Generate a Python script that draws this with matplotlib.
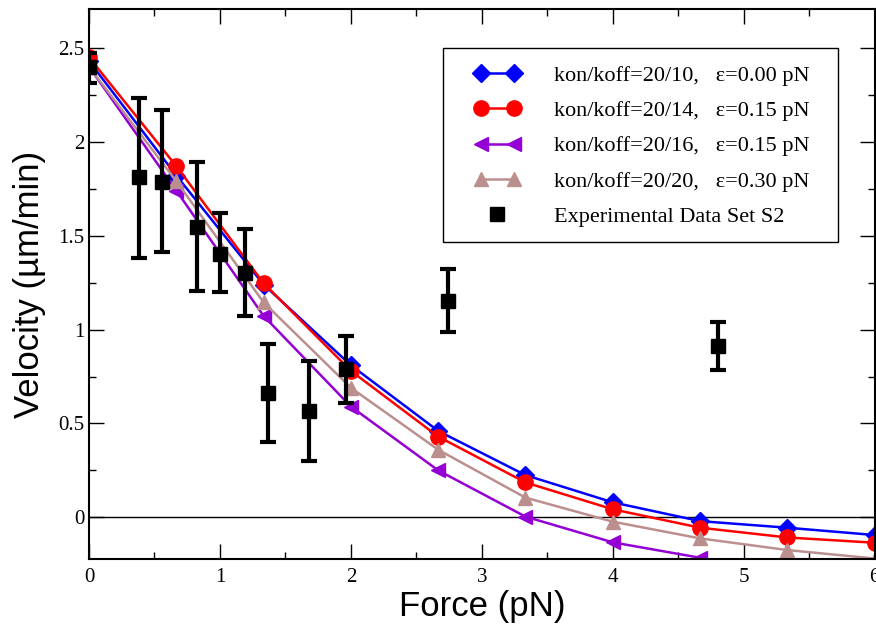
import matplotlib
matplotlib.use("Agg")
import matplotlib.pyplot as plt
from matplotlib.ticker import MultipleLocator, FormatStrFormatter
from matplotlib.lines import Line2D
from matplotlib.patches import Rectangle
from matplotlib.legend_handler import HandlerLine2D

# model curves, sampled every 2/3 pN
force = [0, 0.667, 1.333, 2.0, 2.667, 3.333, 4.0, 4.667, 5.333, 6.0]
v_20_10 = [2.43, 1.82, 1.24, 0.81, 0.46, 0.225, 0.08, -0.02, -0.055, -0.094]
v_20_14 = [2.45, 1.87, 1.247, 0.78, 0.43, 0.186, 0.043, -0.055, -0.107, -0.135]
v_20_16 = [2.40, 1.74, 1.073, 0.59, 0.25, 0.004, -0.133, -0.215]
v_20_20 = [2.40, 1.79, 1.145, 0.69, 0.36, 0.105, -0.023, -0.112, -0.174, -0.219]

# experimental data set S2
exp_force = [0.0, 0.379, 0.557, 0.824, 1.002, 1.188, 1.363, 1.68, 1.963, 2.745, 4.80]
exp_vel   = [2.40, 1.813, 1.786, 1.544, 1.405, 1.299, 0.663, 0.568, 0.79, 1.153, 0.914]
exp_lo    = [2.315, 1.379, 1.414, 1.203, 1.198, 1.073, 0.40, 0.30, 0.61, 0.985, 0.784]
exp_hi    = [2.474, 2.235, 2.17, 1.893, 1.623, 1.535, 0.923, 0.834, 0.967, 1.322, 1.042]

fig = plt.figure(figsize=(8.76, 6.26), dpi=100)
ax = fig.add_axes([0.1016, 0.1075, 0.897, 0.8775])

lw = 1.8
ms = 10
ax.axhline(0, color="black", linewidth=1.0, zorder=1)
h1, = ax.plot(force, v_20_10, "D-", color="#0000ff", lw=lw, ms=ms - 1,
              label="kon/koff=20/10,   \u03b5=0.00 pN")
h2, = ax.plot(force, v_20_14, "o-", color="#ff0000", lw=lw, ms=ms + 1,
              label="kon/koff=20/14,   \u03b5=0.15 pN")
h3, = ax.plot(force[:len(v_20_16)], v_20_16, "<-", color="#9400d3", lw=lw, ms=ms,
              label="kon/koff=20/16,   \u03b5=0.15 pN")
h4, = ax.plot(force, v_20_20, "^-", color="#bc8f8f", lw=lw, ms=ms,
              label="kon/koff=20/20,   \u03b5=0.30 pN")

yerr = [[v - lo for v, lo in zip(exp_vel, exp_lo)],
        [hi - v for v, hi in zip(exp_vel, exp_hi)]]
ax.errorbar(exp_force, exp_vel, yerr=yerr, fmt="s", color="black", ms=ms,
            elinewidth=3, capsize=6, capthick=3, zorder=5)
h5 = Line2D([], [], marker="s", ls="none", color="black", ms=ms,
            label="Experimental Data Set S2")

ax.set_xlim(0, 6)
ax.set_ylim(-0.22, 2.705)
ax.xaxis.set_major_locator(MultipleLocator(1))
ax.xaxis.set_minor_locator(MultipleLocator(0.5))
ax.yaxis.set_major_locator(MultipleLocator(0.5))
ax.yaxis.set_minor_locator(MultipleLocator(0.25))
ax.xaxis.set_major_formatter(FormatStrFormatter("%g"))
ax.yaxis.set_major_formatter(FormatStrFormatter("%g"))
ax.tick_params(which="both", direction="in", top=True, right=True, width=1)
ax.tick_params(which="major", length=11)
ax.tick_params(which="minor", length=5)
for lab in ax.get_xticklabels() + ax.get_yticklabels():
    lab.set_fontfamily("Liberation Serif")
    lab.set_fontsize(15)
ax.tick_params(axis="x", pad=7)
for sp in ax.spines.values():
    sp.set_linewidth(1.5)

ax.set_xlabel("Force (pN)", fontsize=25, family="Liberation Sans", labelpad=2)
ax.set_ylabel("Velocity (\u00b5m/min)", fontsize=25, family="Liberation Sans",
              labelpad=9)

# legend box drawn separately so its padding can differ per side
ax.add_patch(Rectangle((0.4504, 0.5774), 0.5026, 0.3522, transform=ax.transAxes,
                       facecolor="white", edgecolor="black", lw=1.0, zorder=6))
leg = ax.legend(handles=[h1, h2, h3, h4, h5], loc="upper left",
                bbox_to_anchor=(0.4905, 0.898), numpoints=2,
                handler_map={h5: HandlerLine2D(numpoints=1)},
                prop={"family": "Liberation Serif", "size": 16},
                frameon=False, handlelength=2.07, handletextpad=1.5,
                borderpad=0, labelspacing=0.66, borderaxespad=0)
leg.set_zorder(7)

fig.savefig("out.png", dpi=100)
